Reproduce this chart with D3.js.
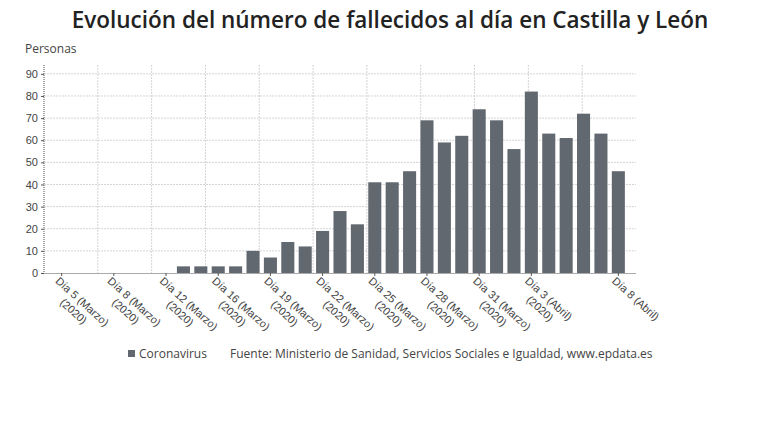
<!DOCTYPE html>
<html>
<head>
<meta charset="utf-8">
<script src="https://cdn.jsdelivr.net/npm/d3@7"></script>
<style>
  body { margin: 0; background: #fff; }
  svg { font-family: "Open Sans", "Noto Sans", sans-serif; }
  .axis text { fill: #444; font-size: 11px; }
  .axis path, .axis line { stroke: #555; }
</style>
</head>
<body>
<svg id="chart" width="780" height="440"></svg>
<script>
const categories = [
  "Día 5 (Marzo)", "Día 6 (Marzo)", "Día 7 (Marzo)", "Día 8 (Marzo)", "Día 9 (Marzo)",
  "Día 10 (Marzo)", "Día 12 (Marzo)", "Día 13 (Marzo)", "Día 14 (Marzo)", "Día 16 (Marzo)",
  "Día 17 (Marzo)", "Día 18 (Marzo)", "Día 19 (Marzo)", "Día 20 (Marzo)", "Día 21 (Marzo)",
  "Día 22 (Marzo)", "Día 23 (Marzo)", "Día 24 (Marzo)", "Día 25 (Marzo)", "Día 26 (Marzo)",
  "Día 27 (Marzo)", "Día 28 (Marzo)", "Día 29 (Marzo)", "Día 30 (Marzo)", "Día 31 (Marzo)",
  "Día 1 (Abril)", "Día 2 (Abril)", "Día 3 (Abril)", "Día 4 (Abril)", "Día 5 (Abril)",
  "Día 6 (Abril)", "Día 7 (Abril)", "Día 8 (Abril)"
];

const deaths = [
  0, 0, 0, 0, 0, 0, 0, 3, 3, 3, 3, 10, 7, 14, 12, 19, 28, 22, 41, 41,
  46, 69, 59, 62, 74, 69, 56, 82, 63, 61, 72, 63, 46
];

const tickCats = [
  "Día 5 (Marzo)", "Día 8 (Marzo)", "Día 12 (Marzo)", "Día 16 (Marzo)", "Día 19 (Marzo)",
  "Día 22 (Marzo)", "Día 25 (Marzo)", "Día 28 (Marzo)", "Día 31 (Marzo)", "Día 3 (Abril)",
  "Día 8 (Abril)"
];
const tickYear = ["(2020)", "(2020)", "(2020)", "(2020)", "(2020)", "(2020)", "(2020)",
  "(2020)", "(2020)", "(2020)", ""];

const yTicks = [0, 10, 20, 30, 40, 50, 60, 70, 80, 90];

const svg = d3.select("#chart");

const plotL = 44, plotR = 636, plotT = 65, plotB = 273;

const x = d3.scaleBand()
  .domain(categories)
  .range([plotL, plotR])
  .paddingInner(0.25)
  .paddingOuter(0.64);

const y = d3.scaleLinear()
  .domain([0, 94])
  .range([plotB, plotT]);

// vertical grid splits the plot in 11 equal parts
const gx = d3.scaleLinear().domain([0, 11]).range([plotL, plotR]);

svg.append("text")
  .attr("x", 390)
  .attr("y", 28)
  .attr("text-anchor", "middle")
  .attr("font-size", 22.5)
  .attr("font-weight", 600)
  .attr("fill", "#222")
  .text("Evolución del número de fallecidos al día en Castilla y León");

svg.append("text")
  .attr("x", 25)
  .attr("y", 53)
  .attr("font-size", 12)
  .attr("fill", "#444")
  .text("Personas");

// grid
svg.append("g")
  .selectAll("line")
  .data(yTicks.filter(d => d > 0))
  .join("line")
  .attr("x1", plotL).attr("x2", plotR)
  .attr("y1", d => y(d)).attr("y2", d => y(d))
  .attr("stroke", "#d4d4d4")
  .attr("stroke-dasharray", "2,1");

svg.append("g")
  .selectAll("line")
  .data(d3.range(1, 11))
  .join("line")
  .attr("x1", d => gx(d)).attr("x2", d => gx(d))
  .attr("y1", plotT).attr("y2", plotB)
  .attr("stroke", "#d4d4d4")
  .attr("stroke-dasharray", "2,1");

// bars
svg.append("g")
  .selectAll("rect")
  .data(categories)
  .join("rect")
  .attr("x", d => x(d))
  .attr("y", (d, i) => y(deaths[i]))
  .attr("width", x.bandwidth())
  .attr("height", (d, i) => y(0) - y(deaths[i]))
  .attr("fill", "#62686f");

// y axis
const yAxis = svg.append("g")
  .attr("class", "axis")
  .attr("transform", `translate(${plotL},0)`)
  .call(d3.axisLeft(y).tickValues(yTicks).tickSize(3).tickPadding(3).tickSizeOuter(0));
yAxis.select(".domain").attr("stroke-dasharray", "1,1").attr("d", `M0,${plotT}V${plotB}`);

// x axis
const xAxis = svg.append("g")
  .attr("class", "axis")
  .attr("transform", `translate(0,${plotB})`)
  .call(d3.axisBottom(x).tickValues(tickCats).tickSize(3).tickSizeOuter(0).tickFormat(""));
xAxis.select(".domain").attr("stroke-dasharray", "1,1");

const lbl = xAxis.selectAll(".tick")
  .append("g")
  .attr("transform", "translate(-7,9) rotate(42)");

lbl.each(function(d) {
  const g = d3.select(this);
  const i = tickCats.indexOf(d);
  const t1 = g.append("text")
    .attr("x", 0).attr("y", 0)
    .attr("text-anchor", "start")
    .attr("font-size", 11)
    .attr("fill", "#444")
    .text(d);
  const w = t1.node().getComputedTextLength();
  g.append("text")
    .attr("x", w / 2).attr("y", 13)
    .attr("text-anchor", "middle")
    .attr("font-size", 11)
    .attr("fill", "#444")
    .text(tickYear[i]);
});

// legend + source
svg.append("rect")
  .attr("x", 128).attr("y", 350)
  .attr("width", 7).attr("height", 7)
  .attr("fill", "#62686f");

svg.append("text")
  .attr("x", 139).attr("y", 358)
  .attr("font-size", 12)
  .attr("fill", "#444")
  .text("Coronavirus");

svg.append("text")
  .attr("x", 230).attr("y", 358)
  .attr("font-size", 12)
  .attr("fill", "#444")
  .text("Fuente: Ministerio de Sanidad, Servicios Sociales e Igualdad, www.epdata.es");
</script>
</body>
</html>
